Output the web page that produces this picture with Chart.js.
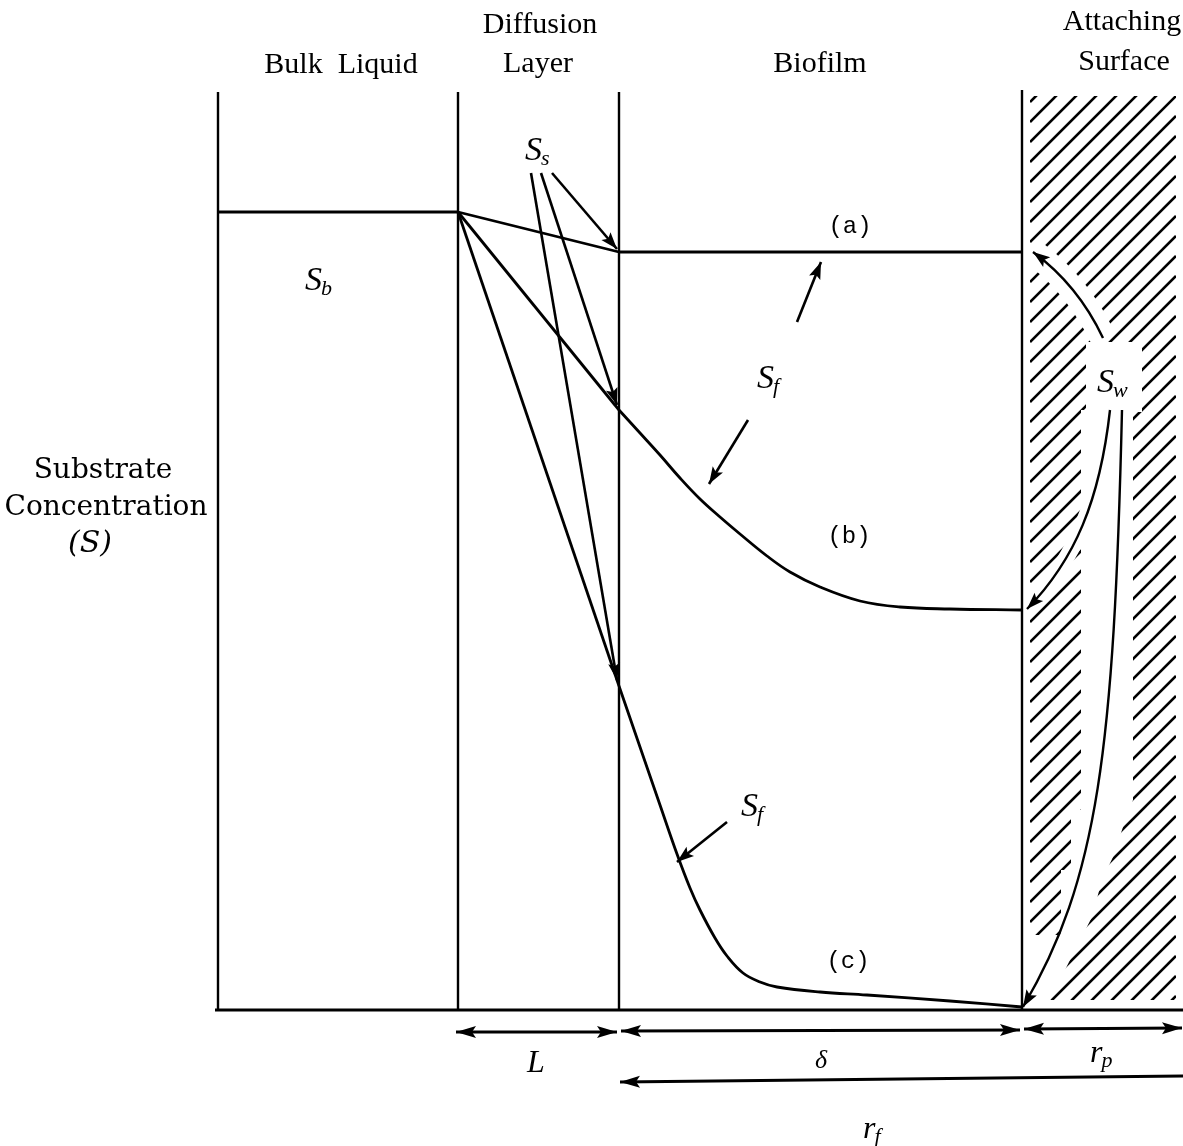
<!DOCTYPE html>
<html>
<head>
<meta charset="utf-8">
<script src="https://cdn.jsdelivr.net/npm/chart.js@4.4.1/dist/chart.umd.min.js"></script>
<style>
  html, body { margin: 0; padding: 0; background: #ffffff; }
  canvas { display: block; }
</style>
</head>
<body>
<canvas id="profile" width="1183" height="1146"></canvas>
<script>
// ---- Coordinates: x = distance across the zones, S = substrate concentration ----
const xRange = [0, 1183];
const sRange = [-136, 1010];

// Zone boundaries (bulk edge, liquid/diffusion, diffusion/biofilm, attaching surface)
const boundaryX   = [218, 458, 619, 1022];
const boundaryTop = [918, 918, 918, 920];
const baseline    = [[215, 0], [1183, 0]];

// Bulk liquid concentration S_b
const bulkProfile = [[218, 798], [458, 798]];

// Linear drop across the diffusion layer, S_b -> S_s, for the three cases
const diffusionA = [[458, 798], [619, 758]];
const diffusionB = [[458, 798], [619, 600]];
const diffusionC = [[458, 798], [619, 324]];

// Concentration profiles inside the biofilm, S_f (cases a, b, c)
const biofilmA = [[619, 758], [1022, 758]];
const biofilmB = [[619, 600], [640, 577], [660, 555], [680, 532], [700, 511], [720, 493],
                  [740, 476], [767, 454], [790, 438], [820, 423], [860, 409], [900, 403],
                  [950, 401], [1022, 400]];
const biofilmC = [[619, 324], [640, 263], [660, 205], [677, 156], [690, 122], [700, 100],
                  [715, 72], [727, 54], [743, 37], [760, 28], [777, 23], [820, 18],
                  [867, 15], [950, 9], [1022, 3]];

// Hatched attaching surface
const surfaceBox = { x0: 1030, x1: 1176, top: 914, bottom: 10 };

// Pointer arrows (straight: [from, to]; curved: bezier control points)
const ssPointers = [[[531, 837], [617, 330]], [[541, 837], [617, 605]], [[552, 837], [617, 761]]];
const sfPointers = [[[797, 688], [821, 748]], [[748, 590], [709, 526]], [[727, 188], [677, 148]]];
const swPointerA = [[1103, 672], [1078, 725], [1033, 758]];
const swPointerB = [[1110, 600], [1100, 510], [1075, 450], [1027, 401]];
const swPointerC = [[1122, 600], [1114, 260], [1098, 130], [1023, 3]];

// Dimension arrows under the axis: [from, to, head at start, head at end]
const dimensionArrows = [
  [[456, -22], [617, -22], true, true],
  [[621, -21], [1020, -20], true, true],
  [[1024, -19], [1182, -18], true, true],
  [[1183, -66], [620, -72], false, true]
];

// Text
const zoneTitles = [
  ['Bulk  Liquid', 341, 937],
  ['Diffusion', 540, 977],
  ['Layer', 538, 938],
  ['Biofilm', 820, 938],
  ['Attaching', 1122, 980],
  ['Surface', 1124, 940]
];
const axisTitle = [['Substrate', 103, 532], ['Concentration', 106, 495]];
const axisSymbol = ['(S)', 90, 458];
const caseLabels = [['(a)', 850, 783], ['(b)', 849, 473], ['(c)', 848, 48]];
// symbol, subscript, x, S
const symbolLabels = [
  ['S', 'b', 305, 720],
  ['S', 's', 525, 850],
  ['S', 'f', 757, 622],
  ['S', 'f', 741, 194],
  ['S', 'w', 1097, 618]
];
const lengthLabels = [['L', 536, -62, 32], ['\u03B4', 821, -58, 26]];
const radiusLabels = [['r', 'p', 1090, -52], ['r', 'f', 863, -128]];

const toPoints = arr => arr.map(([x, y]) => ({ x, y }));
const line = (data, width, curved) => ({
  data: toPoints(data),
  showLine: true,
  borderColor: '#000',
  borderWidth: width,
  borderJoinStyle: 'round',
  pointRadius: 0,
  fill: false,
  tension: curved ? 0.4 : 0,
  cubicInterpolationMode: 'default'
});

const datasets = [
  line(baseline, 3.2),
  line(bulkProfile, 3.2),
  line(diffusionA, 2.8),
  line(diffusionB, 2.8),
  line(diffusionC, 2.8),
  line(biofilmA, 3),
  line(biofilmB, 2.8, true),
  line(biofilmC, 2.8, true)
];
boundaryX.forEach((x, i) => datasets.push(line([[x, 0], [x, boundaryTop[i]]], 2.4)));

const diagram = {
  id: 'diagram',
  beforeDatasetsDraw(chart) {
    const ctx = chart.ctx;
    const xs = chart.scales.x, ys = chart.scales.y;
    const P = (p) => [xs.getPixelForValue(p[0]), ys.getPixelForValue(p[1])];
    const [hx0, hy0] = P([surfaceBox.x0, surfaceBox.top]);
    const [hx1, hy1] = P([surfaceBox.x1, surfaceBox.bottom]);
    ctx.save();
    ctx.beginPath();
    ctx.rect(hx0, hy0, hx1 - hx0, hy1 - hy0);
    ctx.clip();
    // diagonal hatching
    ctx.strokeStyle = '#000';
    ctx.lineWidth = 2.6;
    const w = hx1 - hx0;
    for (let c = hy0 + 6; c < hy1 + w + 20; c += 20) {
      ctx.beginPath();
      ctx.moveTo(hx0, c);
      ctx.lineTo(hx1, c - w);
      ctx.stroke();
    }
    // clear space around the S_w label and its pointers
    ctx.fillStyle = '#fff';
    ctx.strokeStyle = '#fff';
    const band = [[1081, 600], [1133, 600],
                  [1133, 210], [1123, 183], [1113, 153], [1102, 130], [1092, 93], [1070, 50],
                  [1050, 10], [1030, 10], [1030, 75], [1061, 75], [1061, 140], [1071, 140],
                  [1071, 200], [1081, 200]].map(P);
    ctx.beginPath();
    band.forEach((p, i) => i ? ctx.lineTo(p[0], p[1]) : ctx.moveTo(p[0], p[1]));
    ctx.closePath();
    ctx.fill();
    const lab0 = P([1086, 668]), lab1 = P([1142, 598]);
    ctx.fillRect(lab0[0], lab0[1], lab1[0] - lab0[0], lab1[1] - lab0[1]);
    const a = swPointerA.map(P);
    ctx.lineWidth = 26;
    ctx.beginPath();
    ctx.moveTo(a[0][0], a[0][1]);
    ctx.quadraticCurveTo(a[1][0], a[1][1], a[2][0], a[2][1]);
    ctx.stroke();
    const b = swPointerB.map(P);
    ctx.lineWidth = 16;
    ctx.beginPath();
    ctx.moveTo(b[0][0], b[0][1]);
    ctx.bezierCurveTo(b[1][0], b[1][1], b[2][0], b[2][1], b[3][0], b[3][1]);
    ctx.stroke();
    ctx.restore();
  },
  afterDatasetsDraw(chart) {
    const ctx = chart.ctx;
    const xs = chart.scales.x, ys = chart.scales.y;
    const P = (p) => [xs.getPixelForValue(p[0]), ys.getPixelForValue(p[1])];

    const head = (tip, from, len, half) => {
      const dx = tip[0] - from[0], dy = tip[1] - from[1];
      const d = Math.hypot(dx, dy) || 1;
      const ux = dx / d, uy = dy / d;
      ctx.beginPath();
      ctx.moveTo(tip[0], tip[1]);
      ctx.lineTo(tip[0] - ux * len - uy * half, tip[1] - uy * len + ux * half);
      ctx.lineTo(tip[0] - ux * len * 0.8, tip[1] - uy * len * 0.8);
      ctx.lineTo(tip[0] - ux * len + uy * half, tip[1] - uy * len - ux * half);
      ctx.closePath();
      ctx.fill();
    };

    ctx.save();
    ctx.strokeStyle = '#000';
    ctx.fillStyle = '#000';
    ctx.lineCap = 'butt';

    // straight pointers
    ctx.lineWidth = 2.6;
    [...ssPointers, ...sfPointers].forEach(([f, t]) => {
      const p0 = P(f), p1 = P(t);
      ctx.beginPath();
      ctx.moveTo(p0[0], p0[1]);
      ctx.lineTo(p1[0], p1[1]);
      ctx.stroke();
      head(p1, p0, 17, 6);
    });

    // curved S_w pointers
    ctx.lineWidth = 2.4;
    const a = swPointerA.map(P);
    ctx.beginPath();
    ctx.moveTo(a[0][0], a[0][1]);
    ctx.quadraticCurveTo(a[1][0], a[1][1], a[2][0], a[2][1]);
    ctx.stroke();
    head(a[2], a[1], 17, 6);
    [swPointerB, swPointerC].forEach(ptsData => {
      const c = ptsData.map(P);
      ctx.beginPath();
      ctx.moveTo(c[0][0], c[0][1]);
      ctx.bezierCurveTo(c[1][0], c[1][1], c[2][0], c[2][1], c[3][0], c[3][1]);
      ctx.stroke();
      head(c[3], c[2], 17, 6);
    });

    // dimension arrows
    ctx.lineWidth = 2.8;
    dimensionArrows.forEach(([f, t, hs, he]) => {
      const p0 = P(f), p1 = P(t);
      ctx.beginPath();
      ctx.moveTo(p0[0], p0[1]);
      ctx.lineTo(p1[0], p1[1]);
      ctx.stroke();
      if (hs) head(p0, p1, 20, 6);
      if (he) head(p1, p0, 20, 6);
    });

    // text
    ctx.textBaseline = 'alphabetic';
    ctx.textAlign = 'center';
    ctx.font = '30px "Liberation Serif", "Times New Roman", serif';
    zoneTitles.forEach(([t, x, s]) => { const p = P([x, s]); ctx.fillText(t, p[0], p[1]); });

    ctx.font = '28px "DejaVu Serif", serif';
    axisTitle.forEach(([t, x, s]) => { const p = P([x, s]); ctx.fillText(t, p[0], p[1]); });
    ctx.font = 'italic 30px "DejaVu Serif", serif';
    { const p = P([axisSymbol[1], axisSymbol[2]]); ctx.fillText(axisSymbol[0], p[0], p[1]); }

    ctx.textBaseline = 'middle';
    ctx.font = '24px "Liberation Mono", monospace';
    caseLabels.forEach(([t, x, s]) => { const p = P([x, s]); ctx.fillText(t, p[0], p[1]); });

    ctx.textBaseline = 'alphabetic';
    lengthLabels.forEach(([t, x, s, size]) => {
      ctx.font = 'italic ' + size + 'px "Liberation Serif", serif';
      const p = P([x, s]);
      ctx.fillText(t, p[0], p[1]);
    });

    ctx.textAlign = 'left';
    const withSub = (main, sub, x, s, big, small, drop) => {
      const p = P([x, s]);
      ctx.font = 'italic ' + big + 'px "Liberation Serif", serif';
      ctx.fillText(main, p[0], p[1]);
      const w = ctx.measureText(main).width;
      ctx.font = 'italic ' + small + 'px "Liberation Serif", serif';
      ctx.fillText(sub, p[0] + w - 1, p[1] + drop);
    };
    symbolLabels.forEach(([m, sub, x, s]) => withSub(m, sub, x, s, 34, 22, 5));
    radiusLabels.forEach(([m, sub, x, s]) => withSub(m, sub, x, s, 32, 22, 5));
    ctx.restore();
  }
};

new Chart(document.getElementById('profile'), {
  type: 'scatter',
  data: { datasets },
  options: {
    responsive: false,
    animation: false,
    devicePixelRatio: 1,
    layout: { padding: 0 },
    plugins: { legend: { display: false }, tooltip: { enabled: false } },
    scales: {
      x: { type: 'linear', min: xRange[0], max: xRange[1], display: false },
      y: { type: 'linear', min: sRange[0], max: sRange[1], display: false }
    }
  },
  plugins: [diagram]
});
</script>
</body>
</html>
